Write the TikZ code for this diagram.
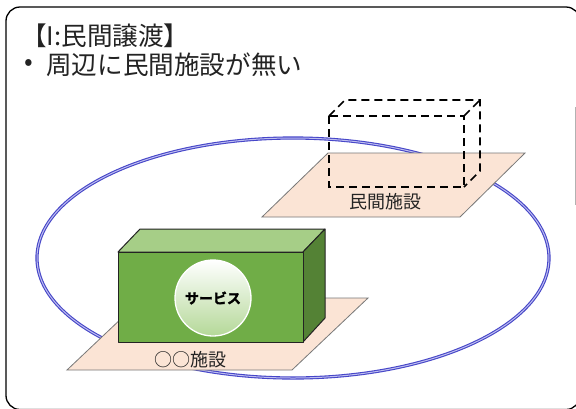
\documentclass[tikz,border=0pt]{standalone}
\usepackage{fontspec}
\newfontfamily\jpfont{Noto Sans CJK JP}
\newfontfamily\jpboldfont[FakeBold=2]{Noto Sans CJK JP Bold}
\definecolor{inkgray}{RGB}{35,35,35}
\definecolor{lotfill}{RGB}{251,228,213}
\definecolor{lotedge}{RGB}{120,120,120}
\definecolor{ringblue}{RGB}{70,70,200}
\definecolor{ringinner}{RGB}{190,190,240}
\definecolor{boxfront}{RGB}{112,173,71}
\definecolor{boxtop}{RGB}{166,206,135}
\definecolor{boxside}{RGB}{84,130,53}
\definecolor{spherelow}{RGB}{180,216,152}
\tikzset{
  frame/.style={draw=black, line width=1.3, rounded corners=14},
  lot/.style={draw=lotedge, fill=lotfill, line width=0.8},
  ring/.style={draw=ringblue, double=ringinner, double distance=1, line width=1.1},
  ghost/.style={draw=black, dash pattern=on 8 off 5, line width=1.7},
  face/.style={draw=inkgray, line width=1, line join=round},
  lotlabel/.style={font=\jpfont\fontsize{18}{20}\selectfont, text=inkgray, inner sep=0},
  heading/.style={font=\jpfont\fontsize{25.6}{28}\selectfont, text=inkgray, inner sep=0, anchor=west},
  sphere/.style={circle, minimum size=76, inner sep=0, top color=white, bottom color=spherelow,
    draw=white, line width=1.3, font=\jpboldfont\fontsize{14}{16}\selectfont, text=black},
}
\begin{document}
\begin{tikzpicture}[x=1pt,y=-1pt]
\useasboundingbox (0,0) rectangle (576,408);
\clip (0,0) rectangle (576,408);
\fill[white] (0,0) rectangle (576,408);

% outer panel
\draw[frame] (6,7) rectangle (580,409.5);
\draw[gray!60, line width=1] (575.5,107) -- (575.5,205);

% headings
\node[heading] (title) at (21,36) {【I:民間譲渡】};
\node[heading] (bullet) at (24,65) {•};
\node[heading] (point) at (46,65) {周辺に民間施設が無い};

% service area
\draw[ring] (293,258) ellipse [x radius=256, y radius=120];

% private facility lot with planned building
\draw[lot] (328,153) -- (525,153) -- (460,217) -- (262,217) -- cycle;
\node[lotlabel] (privlbl) at (385,202) {民間施設};
\draw[ghost] (329,116) rectangle (464,187);
\draw[ghost] (329,116) -- (345,100) -- (480,100) -- (480,171) -- (464,187);
\draw[ghost] (464,116) -- (480,100);

% public facility lot with building
\draw[lot] (143,298) -- (368,298) -- (292,370) -- (67,370) -- cycle;
\node[lotlabel] (publbl) at (190,360) {○○施設};
\filldraw[face, fill=boxtop] (118,252) -- (140,229) -- (325,229) -- (303,252) -- cycle;
\filldraw[face, fill=boxside] (303,252) -- (325,229) -- (325,318) -- (303,342) -- cycle;
\filldraw[face, fill=boxfront] (118,252) rectangle (303,342);
\node[sphere] (svc) at (213,298) {サービス};
\end{tikzpicture}
\end{document}
